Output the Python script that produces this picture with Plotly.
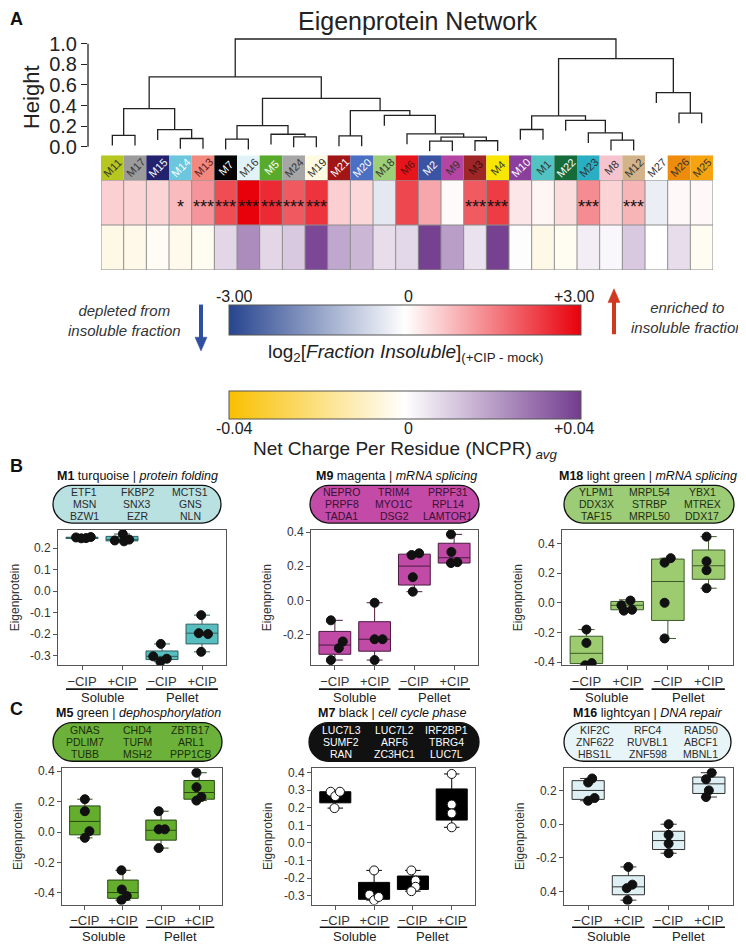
import plotly.graph_objects as go

W, H = 746, 950
OFF = 8  # the page body margin shifts the figure; positions below are picture pixels


def fx(p):
    return (p - OFF) / W


def fy(p):
    return 1 - (p - OFF) / H


SANS = "Liberation Sans, Arial, Helvetica, sans-serif"
INK = "#222222"

# ---------------- Panel A data ----------------
modules = ["M11", "M17", "M15", "M14", "M13", "M7", "M16", "M5", "M24", "M19",
           "M21", "M20", "M18", "M6", "M2", "M9", "M3", "M4", "M10", "M1",
           "M22", "M23", "M8", "M12", "M27", "M26", "M25"]
module_colors = ["#b6c81f", "#9b9b9b", "#22226e", "#6cc6dd", "#f2887e", "#050505",
                 "#e2f3f8", "#58ab2a", "#a6a6a6", "#fffbe2", "#a01515", "#4b6fc2",
                 "#9ccf78", "#e6151c", "#3a53a3", "#b545a3", "#9f2626", "#f9e600",
                 "#8b3f9c", "#52c3c3", "#166b3b", "#2aaec3", "#f6c4cf", "#d3b38a",
                 "#ffffff", "#f08c0c", "#f7a30f"]
module_label_colors = ["#333333", "#333333", "#ffffff", "#ffffff", "#5a1a1a", "#ffffff",
                       "#333333", "#ffffff", "#333333", "#333333", "#ffffff", "#ffffff",
                       "#333333", "#5a1010", "#ffffff", "#333333", "#3a1010", "#333333",
                       "#ffffff", "#333333", "#ffffff", "#333333", "#333333", "#333333",
                       "#333333", "#333333", "#333333"]
log2_fraction_insoluble = [0.55, 0.5, 0.5, 0.8, 1.25, 2.1, 3.0, 2.5, 1.95, 2.4,
                           0.56, 0.47, -0.37, 2.17, 1.03, 0.06, 1.94, 2.3, 0.3, 0.12,
                           0.4, 1.35, 0.52, 0.87, -0.27, 0.08, 0.08]
ncpr_avg = [-0.004, -0.0036, -0.0016, -0.003, -0.002, 0.0084, 0.0236, 0.0084, 0.011, 0.0375,
            0.018, 0.015, 0.007, 0.008, 0.039, 0.02, 0.006, 0.039, 0.0005, -0.004,
            -0.002, 0.0035, 0.0016, 0.011, 0.0, 0.007, -0.002]
significance = ["", "", "", "*", "***", "***", "***", "***", "***", "***",
                "", "", "", "", "", "", "***", "***", "", "",
                "", "***", "", "***", "", "", ""]
# hierarchical clustering merges: (left, right, height); ints refer to earlier merges
dendro_merges = [
    ("M11", "M17", 0.111), ("M14", "M13", 0.080), ("M15", 1, 0.166), (0, 2, 0.370),
    ("M7", "M16", 0.073), ("M24", "M19", 0.096), ("M5", 5, 0.121), (4, 6, 0.204),
    ("M21", "M20", 0.105), ("M2", "M9", 0.055), ("M3", "M4", 0.058), (9, 10, 0.093),
    ("M6", 11, 0.125), ("M18", 12, 0.304), (8, 13, 0.351), (7, 14, 0.470),
    (3, 15, 0.678), ("M10", "M1", 0.167), ("M8", "M12", 0.064), ("M23", 18, 0.135),
    ("M22", 19, 0.256), (17, 20, 0.300), ("M26", "M25", 0.327), ("M27", 22, 0.525),
    (21, 23, 0.855), (16, 24, 1.046),
]
height_ticks = [0.0, 0.2, 0.4, 0.6, 0.8, 1.0]

# ---------------- Panels B / C data ----------------
groups = ["\u2212CIP", "+CIP", "\u2212CIP", "+CIP"]
fractions = ["Soluble", "Pellet"]

panel_modules = ["M1", "M9", "M18", "M5", "M7", "M16"]
panel_colour_names = ["turquoise", "magenta", "light green", "green", "black", "lightcyan"]
panel_terms = ["protein folding", "mRNA splicing", "mRNA splicing",
               "dephosphorylation", "cell cycle phase", "DNA repair"]
panel_genes = [
    [["ETF1", "FKBP2", "MCTS1"], ["MSN", "SNX3", "GNS"], ["BZW1", "EZR", "NLN"]],
    [["NEPRO", "TRIM4", "PRPF31"], ["PRPF8", "MYO1C", "RPL14"], ["TADA1", "DSG2", "LAMTOR1"]],
    [["YLPM1", "MRPL54", "YBX1"], ["DDX3X", "STRBP", "MTREX"], ["TAF15", "MRPL50", "DDX17"]],
    [["GNAS", "CHD4", "ZBTB17"], ["PDLIM7", "TUFM", "ARL1"], ["TUBB", "MSH2", "PPP1CB"]],
    [["LUC7L3", "LUC7L2", "IRF2BP1"], ["SUMF2", "ARF6", "TBRG4"], ["RAN", "ZC3HC1", "LUC7L"]],
    [["KIF2C", "RFC4", "RAD50"], ["ZNF622", "RUVBL1", "ABCF1"], ["HBS1L", "ZNF598", "MBNL1"]],
]

# eigenprotein values per group (-CIP sol, +CIP sol, -CIP pel, +CIP pel)
m1_points = [[0.250, 0.246, 0.247, 0.252], [0.266, 0.236, 0.232, 0.240],
             [-0.246, -0.304, -0.329, -0.315], [-0.112, -0.196, -0.200, -0.283]]
m9_points = [[-0.117, -0.241, -0.280, -0.350], [-0.014, -0.228, -0.228, -0.350],
             [0.266, 0.276, 0.136, 0.051], [0.387, 0.284, 0.219, 0.224]]
m18_points = [[-0.180, -0.270, -0.421, -0.406], [0.015, -0.017, -0.053, -0.047],
              [0.300, 0.270, 0.000, -0.240], [0.445, 0.279, 0.219, 0.098]]
m5_points = [[0.216, 0.137, 0.006, -0.038], [-0.251, -0.377, -0.447, -0.420],
             [0.137, 0.018, 0.018, -0.105], [0.390, 0.295, 0.207, 0.231]]
m7_points = [[0.291, 0.266, 0.291, 0.198], [-0.156, -0.294, -0.325, -0.307],
             [-0.156, -0.214, -0.249, -0.274], [0.392, 0.218, 0.168, 0.089]]
m16_points = [[0.271, 0.247, 0.155, 0.139], [-0.253, -0.358, -0.379, -0.450],
              [0.000, -0.063, -0.115, -0.172], [0.305, 0.266, 0.200, 0.161]]

# box statistics per group: q1, median, q3, lower whisker, upper whisker
m1_box = [[0.245, 0.248, 0.251, 0.244, 0.253], [0.234, 0.240, 0.255, 0.230, 0.266],
          [-0.319, -0.304, -0.279, -0.329, -0.246], [-0.246, -0.196, -0.154, -0.283, -0.112]]
m9_box = [[-0.316, -0.262, -0.182, -0.350, -0.117], [-0.298, -0.228, -0.125, -0.350, -0.014],
          [0.090, 0.201, 0.271, 0.051, 0.276], [0.219, 0.250, 0.335, 0.219, 0.387]]
m18_box = [[-0.409, -0.340, -0.225, -0.421, -0.180], [-0.047, -0.017, 0.009, -0.053, 0.020],
           [-0.119, 0.143, 0.294, -0.240, 0.300], [0.158, 0.249, 0.355, 0.098, 0.445]]
m5_box = [[-0.018, 0.070, 0.172, -0.038, 0.216], [-0.435, -0.397, -0.315, -0.447, -0.251],
          [-0.053, 0.012, 0.079, -0.105, 0.137], [0.216, 0.260, 0.339, 0.207, 0.390]]
m7_box = [[0.228, 0.278, 0.291, 0.198, 0.291], [-0.320, -0.300, -0.224, -0.325, -0.156],
          [-0.264, -0.230, -0.188, -0.274, -0.156], [0.130, 0.193, 0.307, 0.089, 0.392]]
m16_box = [[0.147, 0.200, 0.258, 0.139, 0.271], [-0.418, -0.371, -0.305, -0.450, -0.253],
           [-0.150, -0.097, -0.042, -0.172, 0.000], [0.182, 0.239, 0.279, 0.161, 0.305]]

# horizontal jitter of the replicate points
m1_jitter = [[-0.15, -0.02, 0.10, 0.22], [0.02, -0.18, 0.05, 0.18],
             [-0.03, -0.22, -0.04, 0.12], [-0.02, -0.08, 0.15, -0.02]]
m9_jitter = [[-0.10, 0.20, 0.10, -0.10], [0.00, 0.00, 0.20, 0.00],
             [-0.07, 0.12, -0.04, -0.04], [-0.08, -0.07, -0.08, 0.08]]
m18_jitter = [[0.00, 0.00, -0.03, 0.13], [0.08, -0.14, -0.08, 0.12],
              [0.07, -0.08, -0.08, -0.08], [-0.05, -0.05, -0.05, -0.05]]
m5_jitter = [[0.00, 0.00, 0.12, 0.00], [-0.04, -0.03, -0.04, 0.10],
             [-0.06, -0.06, 0.10, -0.06], [-0.07, -0.07, -0.07, 0.06]]
m7_jitter = [[-0.12, 0.00, 0.12, -0.02], [0.00, -0.12, 0.00, 0.12],
             [-0.04, 0.07, 0.07, -0.04], [0.00, 0.00, 0.00, 0.00]]
m16_jitter = [[0.10, 0.00, 0.16, 0.00], [0.00, 0.10, -0.04, -0.02],
              [0.00, 0.00, 0.00, 0.00], [0.07, -0.07, 0.00, -0.07]]

y_ranges = [[-0.346, 0.285], [-0.381, 0.413], [-0.421, 0.49],
            [-0.476, 0.42], [-0.35, 0.425], [-0.476, 0.332]]
y_ticks = [[-0.3, -0.2, -0.1, 0.0, 0.1, 0.2], [-0.2, 0.0, 0.2, 0.4],
           [-0.4, -0.2, 0.0, 0.2, 0.4], [-0.4, -0.2, 0.0, 0.2, 0.4],
           [-0.3, -0.2, -0.1, 0.0, 0.1, 0.2, 0.3, 0.4], [-0.4, -0.2, 0.0, 0.2]]
y_ticktext = [None, None, None, None, None, ["0.4", "-0.2", "0.0", "0.2"]]

panel_points = [m1_points, m9_points, m18_points, m5_points, m7_points, m16_points]
panel_boxes = [m1_box, m9_box, m18_box, m5_box, m7_box, m16_box]
panel_jitter = [m1_jitter, m9_jitter, m18_jitter, m5_jitter, m7_jitter, m16_jitter]

# ---------------- styles / layout (picture pixels) ----------------
box_fill = ["#58bfc0", "#c04aa6", "#9ccb70", "#64ad2d", "#000000", "#dff0f5"]
box_line = ["#2e5e5f", "#4a1a42", "#3e5a2a", "#2a4a14", "#000000", "#333333"]
pill_fill = ["#b9e1e2", "#c44aa7", "#9dcc76", "#6cb23a", "#111111", "#e8f5f8"]
pill_text = ["#2a2a2a", "#3a1034", "#1e2e12", "#1a2e0a", "#ffffff", "#2a2a2a"]
point_fill = ["#111111", "#111111", "#111111", "#111111", "#ffffff", "#111111"]

plot_frames = [(58, 226, 531, 668), (311, 478, 531, 668), (562, 733, 531, 668),
               (62, 222, 772, 910), (312, 475, 772, 910), (564, 733, 772, 910)]
pill_frames = [(53, 221, 486, 524), (310, 479, 486, 524), (564, 734, 486, 524),
               (53, 222, 726, 765), (309, 479, 726, 765), (564, 731, 726, 765)]
title_pos = [(137, 476), (396, 476), (648, 476), (138, 716), (392, 716), (648, 716)]
underline_y = [692, 692, 692, 933, 933, 933]

fig = go.Figure()
shapes = []
ann = []


def label(x, y, text, size, color=INK, angle=0, xref="paper", yref="paper", **kw):
    if xref == "paper":
        x = fx(x)
    if yref == "paper":
        y = fy(y)
    d = dict(x=x, y=y, xref=xref, yref=yref, text=text, showarrow=False,
             xanchor="center", yanchor="middle", textangle=angle,
             font=dict(family=SANS, size=size, color=color))
    d.update(kw)
    ann.append(d)


# ---------------- dendrogram ----------------
HANG = 0.1
leaf_pos = {m: i for i, m in enumerate(modules)}
node_x, node_h = [], []
seg_x, seg_y = [], []
for left, right, h in dendro_merges:
    ends = []
    for child in (left, right):
        if isinstance(child, str):
            ends.append((leaf_pos[child], h - HANG))
        else:
            ends.append((node_x[child], node_h[child]))
    (xl, yl), (xr, yr) = ends
    seg_x += [xl, xl, xr, xr, None]
    seg_y += [yl, h, h, yr, None]
    node_x.append((xl + xr) / 2)
    node_h.append(h)

fig.add_trace(go.Scatter(x=seg_x, y=seg_y, mode="lines", xaxis="x", yaxis="y",
                         line=dict(color=INK, width=1.3), hoverinfo="skip"))

CELL_L, CELL_R = 101, 713
n_mod = len(modules)
cw = (CELL_R - CELL_L) / n_mod
AX_X = 88

# module colour strip
fig.add_trace(go.Bar(x=list(range(n_mod)), y=[1] * n_mod, width=1, xaxis="x2", yaxis="y2",
                     marker=dict(color=module_colors, line=dict(width=0)), hoverinfo="skip"))
for i, m in enumerate(modules):
    label(i, 0.5, m, 11, module_label_colors[i], angle=-45, xref="x2", yref="y2")

# heatmap rows
fig.add_trace(go.Heatmap(
    z=[log2_fraction_insoluble], x=list(range(n_mod)), y=[1], xaxis="x2", yaxis="y3",
    zmin=-3, zmax=3, colorscale=[[0, "#27448f"], [0.5, "#ffffff"], [1, "#e8000b"]],
    hoverinfo="skip",
    colorbar=dict(orientation="h", x=fx(405), xanchor="center", y=fy(303), yanchor="top",
                  len=352 / W, lenmode="fraction", thickness=30, thicknessmode="pixels",
                  outlinewidth=1, outlinecolor="#555555", showticklabels=False, ticks="",
                  xpad=0, ypad=0)))
fig.add_trace(go.Heatmap(
    z=[ncpr_avg], x=list(range(n_mod)), y=[0], xaxis="x2", yaxis="y3",
    zmin=-0.04, zmax=0.04, colorscale=[[0, "#f9c000"], [0.5, "#ffffff"], [1, "#733c8f"]],
    hoverinfo="skip",
    colorbar=dict(orientation="h", x=fx(405), xanchor="center", y=fy(390), yanchor="top",
                  len=352 / W, lenmode="fraction", thickness=28, thicknessmode="pixels",
                  outlinewidth=1, outlinecolor="#555555", showticklabels=False, ticks="",
                  xpad=0, ypad=0)))

for i in range(n_mod + 1):
    shapes.append(dict(type="line", xref="x2", yref="y3", x0=i - 0.5, x1=i - 0.5, y0=-0.5, y1=1.5,
                       line=dict(color="#8c8c8c", width=1)))
for j in range(3):
    shapes.append(dict(type="line", xref="x2", yref="y3", x0=-0.5, x1=n_mod - 0.5, y0=j - 0.5, y1=j - 0.5,
                       line=dict(color="#8c8c8c", width=1)))
for i, s in enumerate(significance):
    if s:
        label(i, 1, s, 18, "#111111", xref="x2", yref="y3", yshift=-4)

# height axis line (R style, spans first to last tick)
shapes.append(dict(type="line", xref="paper", yref="y", x0=fx(AX_X), x1=fx(AX_X),
                   y0=height_ticks[0], y1=height_ticks[-1], line=dict(color=INK, width=1.3)))

# texts of panel A
label(16, 14, "<b>A</b>", 18, "#111111")
label(418, 16, "Eigenprotein Network", 25)
label(31, 93, "Height", 22, angle=-90)
label(235, 295, "-3.00", 16)
label(408, 295, "0", 16)
label(574, 295, "+3.00", 16)
label(405, 352, "log<sub>2</sub>[<i>Fraction Insoluble</i>]<sub>(+CIP - mock)</sub>", 19)
label(235, 428, "-0.04", 16)
label(408, 428, "0", 16)
label(574, 428, "+0.04", 16)
label(405, 450, "Net Charge Per Residue (NCPR)<sub> <i>avg</i></sub>", 19)
label(124, 319, "<i>depleted from</i><br><i>insoluble fraction</i>", 15, "#333333")
label(687, 316, "<i>enriched to</i><br><i>insoluble fraction</i>", 15, "#333333")
label(16, 466, "<b>B</b>", 18, "#111111")
label(16, 712, "<b>C</b>", 18, "#111111")


def arrow(xc, tail, tip, color):
    head = 14 if tip > tail else -14
    shapes.append(dict(type="line", xref="paper", yref="paper", x0=fx(xc), x1=fx(xc),
                       y0=fy(tail), y1=fy(tip - head + (2 if head > 0 else -2)),
                       line=dict(color=color, width=4)))
    shapes.append(dict(type="path", xref="paper", yref="paper",
                       path=f"M {fx(xc - 6):.5f},{fy(tip - head):.5f} L {fx(xc + 6):.5f},{fy(tip - head):.5f} "
                            f"L {fx(xc):.5f},{fy(tip):.5f} Z",
                       fillcolor=color, line=dict(color=color, width=0.5)))


arrow(201, 303, 350, "#2f4f9f")
arrow(614, 333, 287, "#d0381f")

layout_axes = dict(
    xaxis=dict(domain=[fx(AX_X), fx(CELL_R)], range=[-0.5 - (CELL_L - AX_X) / cw, n_mod - 0.5],
               visible=False, anchor="y"),
    yaxis=dict(domain=[fy(148.5), fy(32.85)], range=[-0.05, 1.06], anchor="x",
               tickvals=height_ticks, ticktext=[f"{v:.1f}" for v in height_ticks],
               ticks="outside", ticklen=6, tickwidth=1.3, tickcolor=INK, showline=False,
               showgrid=False, zeroline=False, tickfont=dict(family=SANS, size=20, color=INK)),
    xaxis2=dict(domain=[fx(CELL_L), fx(CELL_R)], range=[-0.5, n_mod - 0.5], visible=False, anchor="y2"),
    yaxis2=dict(domain=[fy(177), fy(152)], range=[0, 1], visible=False, anchor="x2"),
    yaxis3=dict(domain=[fy(268), fy(177)], range=[-0.5, 1.5], visible=False, anchor="x2"),
)


# ---------------- box plot panels ----------------
def pill_path(L, R, T, B):
    r = (B - T) / 2
    k = 0.5523 * r
    pts = [
        ("M", [(L + r, T)]),
        ("L", [(R - r, T)]),
        ("C", [(R - r + k, T), (R, T + r - k), (R, T + r)]),
        ("C", [(R, T + r + k), (R - r + k, B), (R - r, B)]),
        ("L", [(L + r, B)]),
        ("C", [(L + r - k, B), (L, B - r + k), (L, B - r)]),
        ("C", [(L, T + r - k), (L + r - k, T), (L + r, T)]),
    ]
    s = ""
    for cmd, ps in pts:
        s += cmd + " " + " ".join(f"{fx(a):.5f},{fy(b):.5f}" for a, b in ps) + " "
    return s + "Z"


for k in range(6):
    xa = f"x{k + 3}"
    ya = f"y{k + 4}"
    L, R, T, B = plot_frames[k]
    pos = [1, 2, 3, 4]
    bx = panel_boxes[k]
    fig.add_trace(go.Box(
        x=pos, q1=[b[0] for b in bx], median=[b[1] for b in bx], q3=[b[2] for b in bx],
        lowerfence=[b[3] for b in bx], upperfence=[b[4] for b in bx],
        width=0.8, whiskerwidth=0.5, boxpoints=False, fillcolor=box_fill[k],
        line=dict(color=box_line[k], width=1), xaxis=xa, yaxis=ya, hoverinfo="skip"))
    px_, py_ = [], []
    for g, (vals, jit) in enumerate(zip(panel_points[k], panel_jitter[k])):
        for v, j in zip(vals, jit):
            px_.append(pos[g] + j)
            py_.append(v)
    fig.add_trace(go.Scatter(
        x=px_, y=py_, mode="markers", xaxis=xa, yaxis=ya, hoverinfo="skip",
        marker=dict(size=9, color=point_fill[k], line=dict(color="#111111", width=1))))

    tt = y_ticktext[k] if y_ticktext[k] else [f"{v:.1f}" for v in y_ticks[k]]
    layout_axes[f"xaxis{k + 3}"] = dict(
        domain=[fx(L), fx(R)], range=[0.4, 4.6], anchor=ya, tickvals=pos, ticktext=groups,
        ticks="outside", ticklen=4, tickcolor="#555555", showline=True, mirror=True,
        linecolor="#555555", linewidth=1, showgrid=False, zeroline=False,
        tickfont=dict(family=SANS, size=13, color="#333333"))
    layout_axes[f"yaxis{k + 4}"] = dict(
        domain=[fy(B), fy(T)], range=y_ranges[k], anchor=xa, tickvals=y_ticks[k], ticktext=tt,
        ticks="outside", ticklen=4, tickcolor="#555555", showline=True, mirror=True,
        linecolor="#555555", linewidth=1, showgrid=False, zeroline=False,
        tickfont=dict(family=SANS, size=12, color="#333333"),
        title=dict(text="Eigenprotein", standoff=8, font=dict(family=SANS, size=12, color="#333333")))

    # fraction underlines and labels
    base = underline_y[k]
    for f_i, fname in enumerate(fractions):
        c = 1.5 + 2 * f_i
        shapes.append(dict(type="line", xref=xa, yref="paper", x0=c - 0.9, x1=c + 0.9,
                           y0=fy(base), y1=fy(base), line=dict(color="#111111", width=1.6)))
        label(c, base + 9, fname, 13, "#222222", xref=xa)

    # module title and gene pill
    tx, ty = title_pos[k]
    label(tx, ty, f"<b>{panel_modules[k]}</b> {panel_colour_names[k]} | <i>{panel_terms[k]}</i>",
          12.5, "#111111")
    pL, pR, pT, pB = pill_frames[k]
    shapes.append(dict(type="path", xref="paper", yref="paper", path=pill_path(pL, pR, pT, pB),
                       fillcolor=pill_fill[k], line=dict(color="#111111", width=1.3)))
    cx, cy = (pL + pR) / 2, (pT + pB) / 2
    for r_i, row in enumerate(panel_genes[k]):
        for c_i, gene in enumerate(row):
            label(cx + (c_i - 1) * 53, cy + (r_i - 1) * 12, gene, 10.5, pill_text[k])

fig.update_layout(
    width=W, height=H, margin=dict(l=0, r=0, t=0, b=0), paper_bgcolor="white",
    plot_bgcolor="white", showlegend=False, shapes=shapes, annotations=ann,
    font=dict(family=SANS, color=INK), **layout_axes)

fig.write_html("out.html")
